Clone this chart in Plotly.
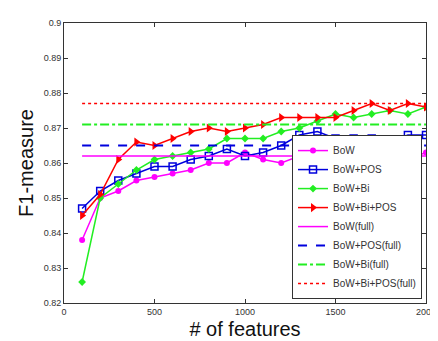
import plotly.graph_objects as go

features = [100, 200, 300, 400, 500, 600, 700, 800, 900, 1000,
            1100, 1200, 1300, 1400, 1500, 1600, 1700, 1800, 1900, 2000]

bow = [0.838, 0.850, 0.852, 0.855, 0.856, 0.857, 0.858, 0.860, 0.860, 0.863,
       0.861, 0.860, 0.862, 0.861, 0.862, 0.863, 0.862, 0.861, 0.861, 0.863]
bow_pos = [0.847, 0.852, 0.855, 0.857, 0.859, 0.859, 0.861, 0.862, 0.864, 0.862,
           0.863, 0.865, 0.868, 0.869, 0.867, 0.867, 0.867, 0.866, 0.868, 0.868]
bow_bi = [0.826, 0.850, 0.854, 0.858, 0.861, 0.862, 0.863, 0.864, 0.867, 0.867,
          0.867, 0.869, 0.870, 0.872, 0.874, 0.873, 0.874, 0.875, 0.874, 0.876]
bow_bi_pos = [0.845, 0.851, 0.861, 0.866, 0.865, 0.867, 0.869, 0.870, 0.869, 0.870,
              0.871, 0.873, 0.873, 0.873, 0.873, 0.875, 0.877, 0.875, 0.877, 0.876]

full_names = ["BoW(full)", "BoW+POS(full)", "BoW+Bi(full)", "BoW+Bi+POS(full)"]
full_values = [0.862, 0.865, 0.871, 0.877]
full_range = [100, 2000]

y_ticks = [0.82, 0.83, 0.84, 0.85, 0.86, 0.87, 0.88, 0.89, 0.9]
y_tick_labels = ["0.82", "0.83", "0.84", "0.85", "0.86", "0.87", "0.88", "0.89", "0.9"]
x_ticks = [0, 500, 1000, 1500, 2000]

FONT = "Liberation Sans, Arial, sans-serif"

fig = go.Figure()

series = [
    ("BoW", bow, "#FF00FF", dict(symbol="circle", size=6, color="#FF00FF")),
    ("BoW+POS", bow_pos, "#0000DD", dict(symbol="square-open", size=7, color="#0000DD", line=dict(width=1.5))),
    ("BoW+Bi", bow_bi, "#22EE22", dict(symbol="diamond", size=6, color="#22EE22")),
    ("BoW+Bi+POS", bow_bi_pos, "#FF0000", dict(symbol="triangle-right", size=8, color="#FF0000")),
]
for name, vals, col, mk in series:
    fig.add_trace(go.Scatter(x=features, y=vals, name=name, mode="lines+markers",
                             line=dict(color=col, width=1.5), marker=mk))

full_styles = [("#FF00FF", "solid", 1.5), ("#0000DD", "dash", 2), ("#22EE22", "dashdot", 2), ("#FF0000", "dot", 1.5)]
for name, v, (col, dash, w) in zip(full_names, full_values, full_styles):
    fig.add_trace(go.Scatter(x=full_range, y=[v, v], name=name, mode="lines",
                             line=dict(color=col, dash=dash, width=w)))

axis_common = dict(showline=True, linecolor="#333333", linewidth=1, mirror="ticks",
                   ticks="inside", ticklen=4, tickcolor="#333333", showgrid=False,
                   zeroline=False, tickfont=dict(family=FONT, size=9, color="#333333"))

fig.update_layout(
    width=438, height=341,
    margin=dict(l=56, r=10, t=10, b=46),
    paper_bgcolor="white", plot_bgcolor="white",
    font=dict(family=FONT, color="#111111"),
    xaxis=dict(range=[0, 2000], tickvals=x_ticks,
               title=dict(text="# of features", font=dict(family=FONT, size=20), standoff=6), **axis_common),
    yaxis=dict(range=[0.82, 0.9], tickvals=y_ticks, ticktext=y_tick_labels,
               title=dict(text="F1-measure", font=dict(family=FONT, size=20), standoff=4), **axis_common),
    legend=dict(x=0.989, y=0.014, xanchor="right", yanchor="bottom",
                bgcolor="white", bordercolor="#333333", borderwidth=1,
                font=dict(family=FONT, size=10, color="#333333"), tracegroupgap=0,
                itemwidth=30),
    showlegend=True,
)

fig.write_html("out.html")
